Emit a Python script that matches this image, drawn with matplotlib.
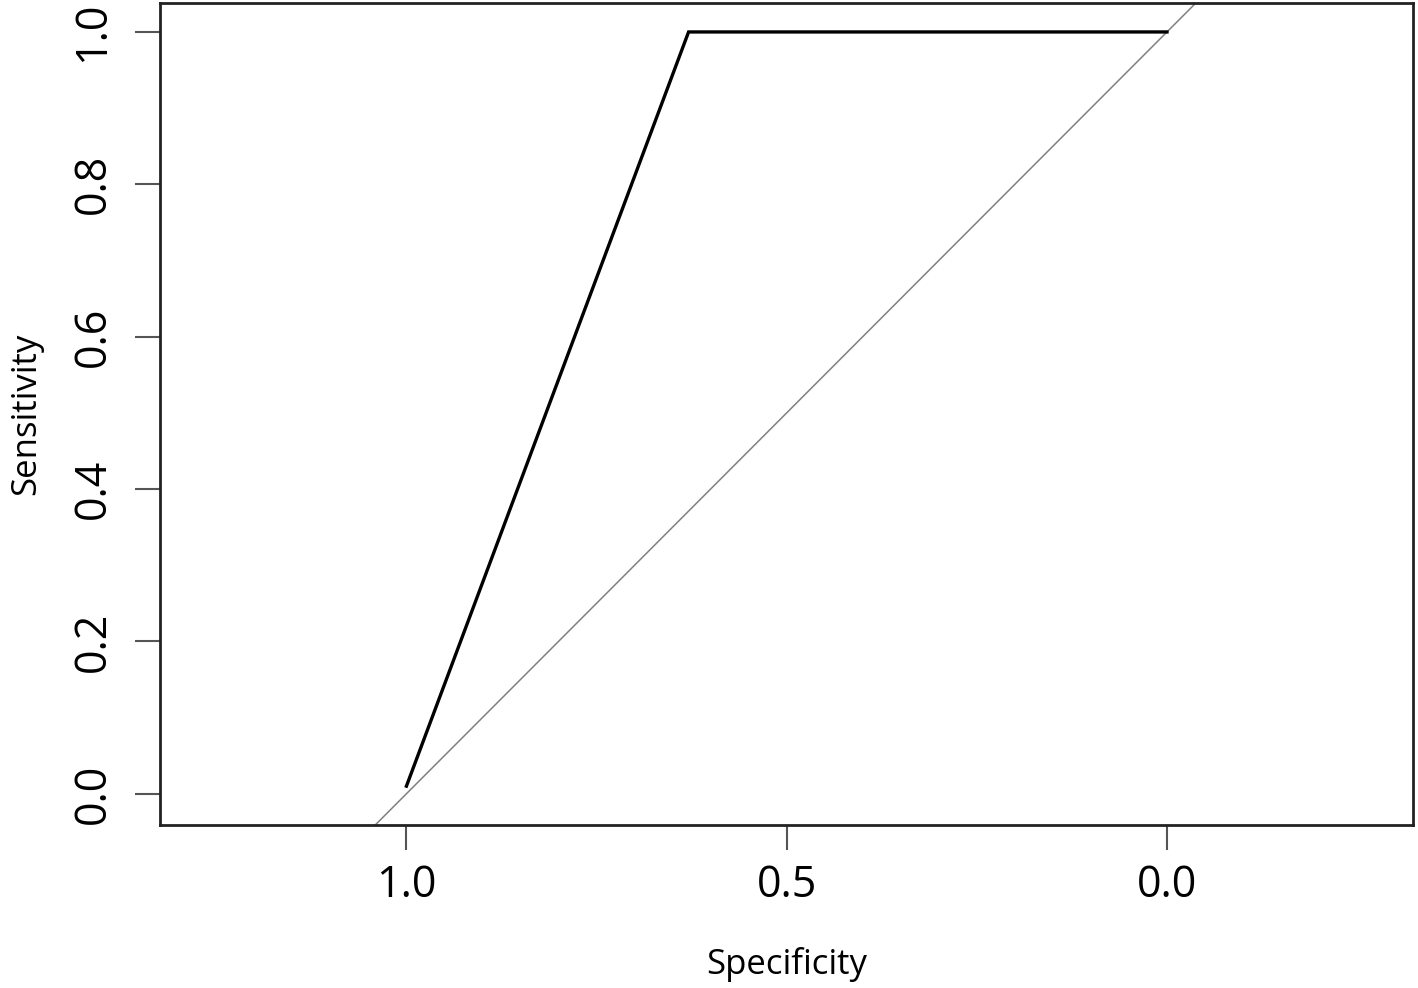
import matplotlib
matplotlib.use("Agg")
import matplotlib.pyplot as plt

# ROC curve points (specificity, sensitivity)
specificity = [1.0, 0.629, 0.0]
sensitivity = [0.01, 1.0, 1.0]

# chance diagonal
diag_spec = [1.4, -0.4]
diag_sens = [-0.4, 1.4]

xticks = [1.0, 0.5, 0.0]
yticks = [0.0, 0.2, 0.4, 0.6, 0.8, 1.0]

plt.rcParams['font.family'] = ['Open Sans', 'DejaVu Sans']

fig = plt.figure(figsize=(14.18, 9.88), dpi=100)
ax = fig.add_axes([160 / 1418, 1 - 825 / 988, (1413 - 160) / 1418, (825 - 3) / 988])

ax.plot(diag_spec, diag_sens, color='#808080', linewidth=1.1)
ax.plot(specificity, sensitivity, color='black', linewidth=2.4, solid_joinstyle='miter')

ax.set_xlim(1.324, -0.3235)
ax.set_ylim(-0.041, 1.038)

ax.set_xticks(xticks)
ax.set_xticklabels([f"{v:.1f}" for v in xticks])
ax.set_yticks(yticks)
ax.set_yticklabels([f"{v:.1f}" for v in yticks], rotation=90, va='center')

ax.tick_params(axis='both', length=18, width=1.5, color='#555555', labelsize=31)
ax.tick_params(axis='x', pad=10)
ax.tick_params(axis='y', pad=14)

for s in ax.spines.values():
    s.set_linewidth(2.0)
    s.set_color('#222222')

ax.set_xlabel("Specificity", fontsize=25, labelpad=28)
ax.set_ylabel("Sensitivity", fontsize=25, labelpad=20)

fig.savefig("out.png", dpi=100)
